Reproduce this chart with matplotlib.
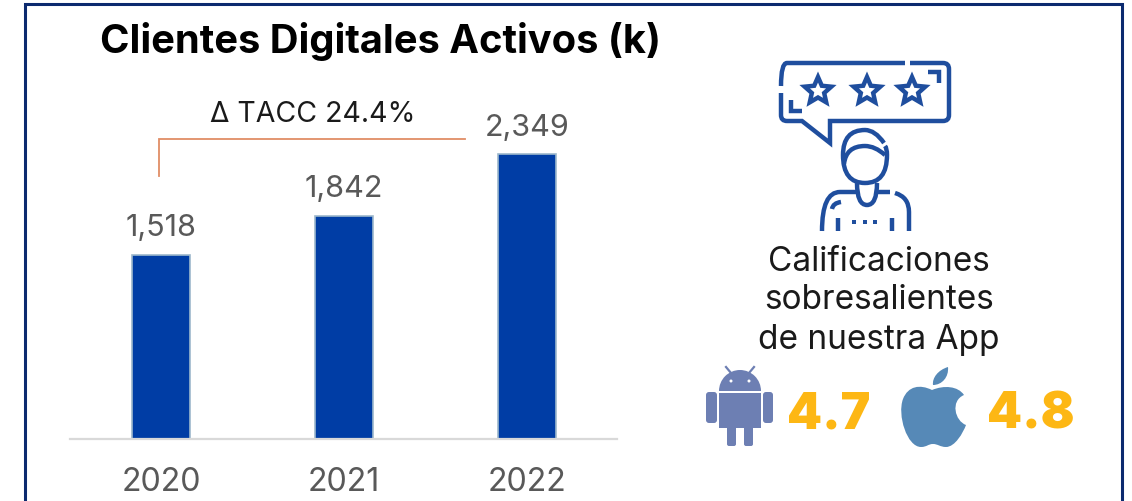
import numpy as np
import matplotlib
matplotlib.use("Agg")
import matplotlib.pyplot as plt
from matplotlib.path import Path
from matplotlib.patches import PathPatch, Rectangle, Ellipse, Polygon, FancyBboxPatch, Wedge

plt.rcParams['font.family'] = ['Inter', 'DejaVu Sans']

years = ["2020", "2021", "2022"]
clientes = [1518, 1842, 2349]
etiquetas = ["1,518", "1,842", "2,349"]
titulo = "Clientes Digitales Activos (k)"
tacc = "\u0394 TACC 24.4%"
calificaciones = ["Calificaciones", "sobresalientes", "de nuestra App"]
rating_android = "4.7"
rating_apple = "4.8"

W, H = 1132, 501
AZUL = "#1f4e9e"
GRIS = "#595959"
ORO = "#fdb714"

fig = plt.figure(figsize=(W / 100, H / 100), dpi=100)

# overlay in pixel coords for frame, text and icons
bg = fig.add_axes([0, 0, 1, 1])
bg.set_xlim(0, W)
bg.set_ylim(H, 0)
bg.axis("off")

# bar chart
ax = fig.add_axes([70 / W, (H - 439) / H, (617 - 70) / W, 339 / H])
ax.patch.set_alpha(0)
x = np.arange(len(years))
ax.bar(x, clientes, width=0.317, color="#003da5", edgecolor="#9db8cc", linewidth=1.2)
ax.set_xlim(-0.497, 2.49)
ax.set_ylim(0, 2795)
ax.set_xticks(x)
ax.set_xticklabels(years, fontsize=23.2, color=GRIS)
ax.tick_params(axis="x", length=0, pad=20)
ax.set_yticks([])
for s in ["top", "left", "right"]:
    ax.spines[s].set_visible(False)
ax.spines["bottom"].set_color("#d9d9d9")
ax.spines["bottom"].set_linewidth(1.6)
for i, v in enumerate(clientes):
    ax.annotate(etiquetas[i], (i, v), xytext=(0, 9), textcoords="offset points",
                ha="center", va="bottom", fontsize=22, color=GRIS)

# frame, open at the bottom
bg.plot([25, 25, 1122, 1122], [H + 5, 4, 4, H + 5], color="#0b2a6f", lw=2.2,
        solid_joinstyle="miter", clip_on=False)

bg.text(380, 41, titulo, ha="center", va="center", fontsize=28.7, fontweight="bold", color="black")
bg.text(313, 114, tacc, ha="center", va="center", fontsize=20.5, color="#1a1a1a")
bg.plot([159, 159, 465], [176, 139, 139], color="#e08d66", lw=1.3, solid_joinstyle="miter")

for t, yy in zip(calificaciones, [262, 300, 340]):
    bg.text(879, yy, t, ha="center", va="center", fontsize=24, color="#1a1a1a")
bg.text(829, 415, rating_android, ha="center", va="center", fontsize=36, fontweight="black", color=ORO)
bg.text(1031, 415, rating_apple, ha="center", va="center", fontsize=36, fontweight="black", color=ORO)


def trazo(puntos, codigos=None, lw=3.2):
    if codigos is None:
        codigos = [Path.MOVETO] + [Path.LINETO] * (len(puntos) - 1)
    bg.add_patch(PathPatch(Path(puntos, codigos), fc="none", ec=AZUL, lw=lw,
                           capstyle="butt", joinstyle="miter"))


M, L, C = Path.MOVETO, Path.LINETO, Path.CURVE3
# speech bubble
trazo([(781, 86), (781, 63), (787, 63), (905, 63)], [M, C, C, L])
trazo([(910, 63), (943, 63), (949, 63), (949, 69), (949, 115), (949, 121), (943, 121),
       (830, 121), (830, 143), (802, 121), (787, 121), (781, 121), (781, 115), (781, 93)],
      [M, L, C, C, L, C, C, L, L, L, L, C, C, L])
trazo([(928, 72), (939, 72), (939, 83)])
trazo([(791, 100), (791, 111), (802, 111)])
for cx in [818, 867, 912]:
    ang = np.deg2rad(np.arange(0, 360, 36) - 90)
    rad = np.where(np.arange(10) % 2 == 0, 14, 6.5)
    bg.add_patch(Polygon(np.c_[cx + rad * np.cos(ang), 91 + rad * np.sin(ang)], closed=True,
                         fc="none", ec=AZUL, lw=3.2, joinstyle="miter"))

# person
trazo([(884, 143), (875, 130), (865, 130), (843, 130), (843, 155), (843, 183), (865, 183),
       (887, 183), (887, 155), (887, 148), (885, 146)], [M, C, C, C, C, C, C, C, C, C, C])
trazo([(844, 164), (846, 146), (865, 146), (875, 146), (885, 155)], [M, C, C, C, C])
trazo([(857, 183), (857, 205), (867, 205), (877, 205), (877, 183)], [M, C, C, C, C])
trazo([(822, 231), (822, 192), (840, 192), (857, 192)], [M, C, C, L])
trazo([(877, 192), (890, 192)])
trazo([(895, 193), (909, 197), (909, 212), (909, 231)], [M, C, C, L])
trazo([(832, 209), (833, 203), (841, 202)], [M, C, C])
trazo([(838, 218), (838, 231)])
trazo([(892, 218), (892, 231)])
for px in [854, 865, 875]:
    bg.add_patch(Rectangle((px - 2, 220), 4, 4, fc=AZUL, ec="none"))

# android
AND = "#6d7fb3"
bg.add_patch(Wedge((740, 391), 21, 180, 360, fc=AND, ec="none"))
bg.add_patch(Rectangle((719, 393), 42, 35, fc=AND, ec="none"))
for ax0, ax1 in [(706, 717), (763, 773)]:
    bg.add_patch(FancyBboxPatch((ax0 + 3, 395), ax1 - ax0 - 6, 25, boxstyle="round,pad=3",
                                fc=AND, ec="none"))
for lx0, lx1 in [(727, 736), (744, 753)]:
    bg.add_patch(FancyBboxPatch((lx0 + 2, 428), lx1 - lx0 - 4, 16, boxstyle="round,pad=2",
                                fc=AND, ec="none"))
bg.plot([731, 726], [373, 367], color=AND, lw=1.6)
bg.plot([749, 754], [373, 367], color=AND, lw=1.6)
bg.add_patch(Ellipse((731, 381), 3, 3, fc="white", ec="none"))
bg.add_patch(Ellipse((749, 381), 3, 3, fc="white", ec="none"))

# apple
MAN = "#5689b7"
C4 = Path.CURVE4
cuerpo = [(932, 390), (920, 384), (908, 386), (903, 399),
          (897, 415), (907, 447), (921, 447),
          (927, 447), (928, 444), (933, 444),
          (938, 444), (940, 447), (946, 447),
          (955, 447), (963, 433), (966, 425),
          (955, 421), (950, 401), (964, 395),
          (958, 386), (944, 385), (932, 390)]
bg.add_patch(PathPatch(Path(cuerpo, [M] + [C4] * 21), fc=MAN, ec="none"))
hoja = [(948, 367), (938, 370), (932, 378), (933, 385), (942, 385), (949, 377), (948, 367)]
bg.add_patch(PathPatch(Path(hoja, [M] + [C4] * 6), fc=MAN, ec="none"))

fig.savefig("out.png", dpi=100, facecolor="white")
